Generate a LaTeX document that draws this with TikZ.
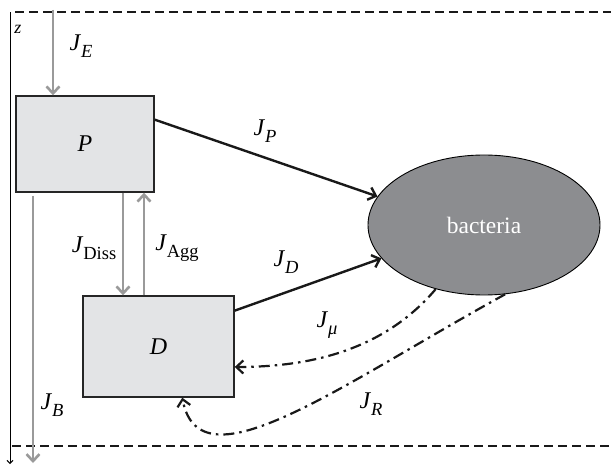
\documentclass[tikz,border=0pt]{standalone}
\usepackage{fontspec}
\setmainfont{Liberation Serif}
\usetikzlibrary{arrows.meta,calc,shapes.geometric}

\definecolor{boxfill}{HTML}{E3E4E6}
\definecolor{bacfill}{HTML}{8C8D90}
\definecolor{fluxgray}{HTML}{9A9A9A}

% flux symbol J with a lowered subscript
\newcommand{\flux}[1]{\textit{J}\raisebox{-6.5pt}{\fontsize{18.5}{20}\selectfont #1}}

\begin{document}
\begin{tikzpicture}[x=1pt,y=-1pt,
  font=\fontsize{24}{28}\selectfont,
  pool/.style={draw=black!85, line width=1.4pt, fill=boxfill, inner sep=0pt},
  cell/.style={ellipse, draw=black, line width=0.9pt, fill=bacfill, text=white,
               inner sep=0pt, minimum width=232pt, minimum height=140pt,
               font=\fontsize{23.5}{26}\selectfont},
  tip/.style={-{Straight Barb[length=7pt,width=13pt]}},
  graylink/.style={draw=fluxgray, line width=2.6pt, tip},
  blacklink/.style={draw=black!90, line width=2.4pt, tip},
  dashdotlink/.style={draw=black!90, line width=2.2pt,
                      dash pattern=on 11pt off 5pt on 2.5pt off 5pt, tip},
  boundary/.style={draw=black!90, line width=1.6pt, dash pattern=on 9pt off 5pt},
  lbl/.style={inner sep=0pt}]
\useasboundingbox (0,0) rectangle (611,465);

% layer boundaries and depth axis
\coordinate (topL) at (15,12);   \coordinate (topR) at (611,12);
\coordinate (botL) at (12,446);  \coordinate (botR) at (611,446);
\draw[boundary] (topL) -- (topR);
\draw[boundary] (botL) -- (botR);
\coordinate (ztop) at (10,12);   \coordinate (zbot) at (10,464);
\draw[line width=1pt, -{Straight Barb[length=3pt,width=6pt]}] (ztop) -- (zbot);
\node[lbl, font=\fontsize{18}{20}\selectfont\itshape] (z) at (18,29) {z};

% pools
\node[pool, minimum width=138pt, minimum height=96pt] (P) at (85,144) {\textit{P}};
\node[pool, minimum width=151pt, minimum height=101pt] (D) at (158.5,346.5) {\textit{D}};
\node[cell] (bac) at (484,225) {bacteria};

% gray vertical fluxes
\coordinate (Etop) at (53,10);
\draw[graylink] (Etop) -- (Etop |- P.north);
\coordinate (Bstart) at (33,196); \coordinate (Bend) at (33,463);
\draw[graylink] (Bstart) -- (Bend);
\coordinate (dissx) at (123,0); \coordinate (aggx) at (144,0);
\draw[graylink] (dissx |- P.south) -- (dissx |- D.north);
\draw[graylink] (aggx |- D.north) -- (aggx |- P.south);

% uptake by bacteria
\draw[blacklink] ($(P.north east)!0.25!(P.south east)$) -- (bac.165);
\draw[blacklink] ($(D.north east)!0.15!(D.south east)$) -- (bac.198);

% return fluxes
\draw[dashdotlink] (bac.233) .. controls (380,355) and (300,367) ..
  ($(D.north east)!0.70!(D.south east)$);
\draw[dashdotlink] (bac.287) .. controls (340,385) and (200,490) ..
  ($(D.south west)!0.656!(D.south east)$);

% flux labels
\node[lbl] (lE) at (81,46) {\flux{\textit{E}}};
\node[lbl] (lP) at (265,131) {\flux{\textit{P}}};
\node[lbl] (lDiss) at (94,248) {\flux{Diss}};
\node[lbl] (lAgg) at (177,248) {\flux{Agg}};
\node[lbl] (lD) at (286,262) {\flux{\textit{D}}};
\node[lbl] (lmu) at (327,325) {\flux{\textit{μ}}};
\node[lbl] (lR) at (371,404) {\flux{\textit{R}}};
\node[lbl] (lB) at (52,405) {\flux{\textit{B}}};
\end{tikzpicture}
\end{document}
